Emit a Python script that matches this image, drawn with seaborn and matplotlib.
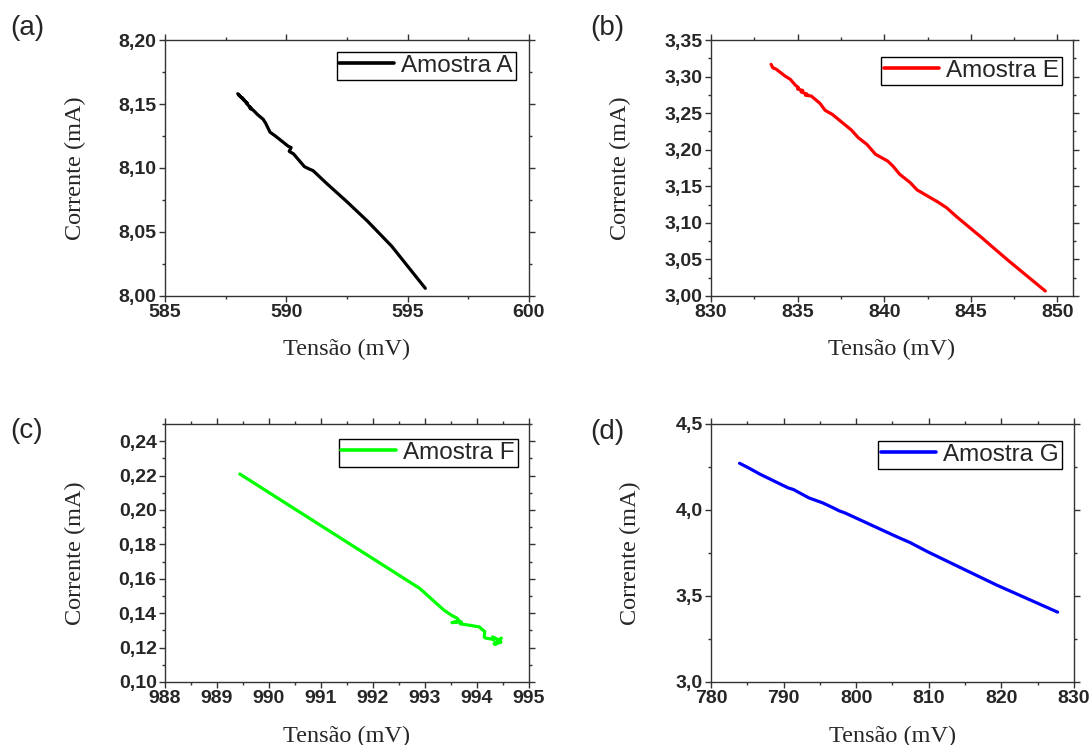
import matplotlib
matplotlib.use("Agg")
import matplotlib.pyplot as plt
from matplotlib.ticker import MultipleLocator, FuncFormatter
import seaborn as sns
import pandas as pd

# Sample A
tensao_a = [588.00, 588.10, 588.05, 588.25, 588.18, 588.40, 588.32, 588.55, 588.48,
            588.70, 588.80, 589.05, 589.15, 589.33, 589.55, 590.08, 590.20, 590.12,
            590.30, 590.75, 590.97, 591.10, 591.66, 592.48, 593.34, 594.34, 595.73]
corrente_a = [8.158, 8.156, 8.157, 8.153, 8.155, 8.150, 8.152, 8.146, 8.148,
              8.144, 8.142, 8.138, 8.135, 8.128, 8.125, 8.117, 8.116, 8.113,
              8.111, 8.101, 8.099, 8.098, 8.088, 8.074, 8.0586, 8.039, 8.006]

# Sample E
tensao_e = [833.47, 833.57, 833.77, 834.27, 834.58, 834.88, 835.05, 835.00, 835.30,
            835.20, 835.55, 835.45, 835.79, 836.29, 836.59, 837.00, 838.10, 838.50,
            839.00, 839.50, 840.20, 840.50, 840.90, 841.50, 841.90, 842.50, 843.10,
            843.60, 844.20, 845.70, 846.30, 847.20, 849.30]
corrente_e = [3.3167, 3.3120, 3.3100, 3.3008, 3.2962, 3.2880, 3.2850, 3.2830, 3.2810,
              3.2790, 3.2760, 3.2745, 3.2734, 3.2634, 3.2538, 3.2484, 3.2270, 3.2165,
              3.2073, 3.1937, 3.1845, 3.1777, 3.1663, 3.1550, 3.1450, 3.1367, 3.1285,
              3.1207, 3.1080, 3.0784, 3.0660, 3.0478, 3.0068]

# Sample F
tensao_f = [989.44, 992.89, 993.00, 993.36, 993.50, 993.62, 993.66, 993.52, 993.70,
            993.68, 993.85, 994.05, 994.08, 994.12, 994.15, 994.14, 994.18, 994.28,
            994.32, 994.30, 994.45, 994.35, 994.47, 994.33, 994.46]
corrente_f = [0.2209, 0.1546, 0.1517, 0.1419, 0.1390, 0.1370, 0.1355, 0.1345, 0.1350,
              0.1338, 0.1330, 0.1320, 0.1310, 0.1300, 0.1295, 0.1260, 0.1254, 0.1250,
              0.1244, 0.1262, 0.1240, 0.1218, 0.1255, 0.1222, 0.1230]

# Sample G
tensao_g = [783.93, 785.12, 786.80, 788.70, 790.60, 791.35, 793.50, 795.40, 796.86,
            797.60, 798.50, 805.50, 807.40, 809.80, 814.60, 819.40, 827.75]
corrente_g = [4.2715, 4.246, 4.207, 4.168, 4.129, 4.119, 4.070, 4.041, 4.012,
              3.996, 3.982, 3.846, 3.811, 3.758, 3.660, 3.5625, 3.406]

sns.set_style("ticks")
plt.rcParams["font.family"] = ["Liberation Sans", "DejaVu Sans"]

panels = [
    dict(tag="(a)", x=tensao_a, y=corrente_a, name="Amostra A", color="#000000",
         xlim=(585, 600), ylim=(8.00, 8.20), xmaj=5, xmin=2.5, ymaj=0.05, ymin=0.025,
         dec=2, rect=[0.1512, 0.6027, 0.3336, 0.3436], leg=(0.964, 0.953),
         ylab_x=-0.247, tag_xy=(27, 28)),
    dict(tag="(b)", x=tensao_e, y=corrente_e, name="Amostra E", color="#ff0000",
         xlim=(830, 850.9), ylim=(3.00, 3.35), xmaj=5, xmin=2.5, ymaj=0.05, ymin=0.025,
         dec=2, rect=[0.6517, 0.6027, 0.3318, 0.3436], leg=(0.970, 0.934),
         ylab_x=-0.251, tag_xy=(607, 28)),
    dict(tag="(c)", x=tensao_f, y=corrente_f, name="Amostra F", color="#00ff00",
         xlim=(988, 995), ylim=(0.10, 0.25), xmaj=1, xmin=0.5, ymaj=0.02, ymin=0.01,
         dec=2, rect=[0.1512, 0.0846, 0.3336, 0.3463], leg=(0.970, 0.942),
         ylab_x=-0.247, tag_xy=(27, 431)),
    dict(tag="(d)", x=tensao_g, y=corrente_g, name="Amostra G", color="#0000ff",
         xlim=(780, 830), ylim=(3.0, 4.5), xmaj=10, xmin=5, ymaj=0.5, ymin=0.25,
         dec=1, rect=[0.6517, 0.0846, 0.3327, 0.3463], leg=(0.967, 0.934),
         ylab_x=-0.223, tag_xy=(607, 432)),
]

W, H = 1091, 745
fig = plt.figure(figsize=(W / 100, H / 100), dpi=100)

tick_font = dict(family="Liberation Sans", weight="bold", size=14)
label_font = dict(family="Liberation Serif", size=17.5)

for p in panels:
    ax = fig.add_axes(p["rect"])
    df = pd.DataFrame({"Tensão": p["x"], "Corrente": p["y"]})
    sns.lineplot(data=df, x="Tensão", y="Corrente", ax=ax, sort=False,
                 estimator=None, color=p["color"], linewidth=2.3,
                 label=p["name"], solid_joinstyle="round")
    ax.set_xlim(*p["xlim"])
    ax.set_ylim(*p["ylim"])

    ax.xaxis.set_major_locator(MultipleLocator(p["xmaj"]))
    ax.xaxis.set_minor_locator(MultipleLocator(p["xmin"]))
    ax.yaxis.set_major_locator(MultipleLocator(p["ymaj"]))
    ax.yaxis.set_minor_locator(MultipleLocator(p["ymin"]))
    dec = p["dec"]
    ax.yaxis.set_major_formatter(
        FuncFormatter(lambda v, pos, d=dec: f"{v:.{d}f}".replace(".", ",")))
    ax.xaxis.set_major_formatter(FuncFormatter(lambda v, pos: f"{v:.0f}"))

    ax.tick_params(which="both", direction="out", top=True, right=True,
                   color="#333333", width=1.0)
    ax.tick_params(which="major", length=4, pad=2)
    ax.tick_params(which="minor", length=2.5)
    for lab in ax.get_xticklabels() + ax.get_yticklabels():
        lab.set_fontfamily(tick_font["family"])
        lab.set_fontweight(tick_font["weight"])
        lab.set_fontsize(tick_font["size"])
    for s in ax.spines.values():
        s.set_visible(True)
        s.set_color("#333333")
        s.set_linewidth(1.0)

    ax.set_xlabel("Tensão (mV)", va="center", **label_font)
    ax.set_ylabel("Corrente (mA)", va="center", **label_font)
    ax.xaxis.set_label_coords(0.5, -0.21)
    ax.yaxis.set_label_coords(p["ylab_x"], 0.5)

    leg = ax.legend(loc="upper right", bbox_to_anchor=p["leg"], borderaxespad=0,
                    frameon=True, fancybox=False, framealpha=1, edgecolor="#000000",
                    borderpad=0.12, handlelength=2.25, handletextpad=0.3,
                    prop=dict(family="Liberation Sans", size=17.5))
    leg.get_frame().set_linewidth(1.0)
    for ln in leg.get_lines():
        ln.set_linewidth(2.6)

    fig.text(p["tag_xy"][0] / W, 1 - p["tag_xy"][1] / H, p["tag"],
             ha="center", va="center", family="Liberation Sans", fontsize=20)

fig.savefig("out.png", dpi=100)
